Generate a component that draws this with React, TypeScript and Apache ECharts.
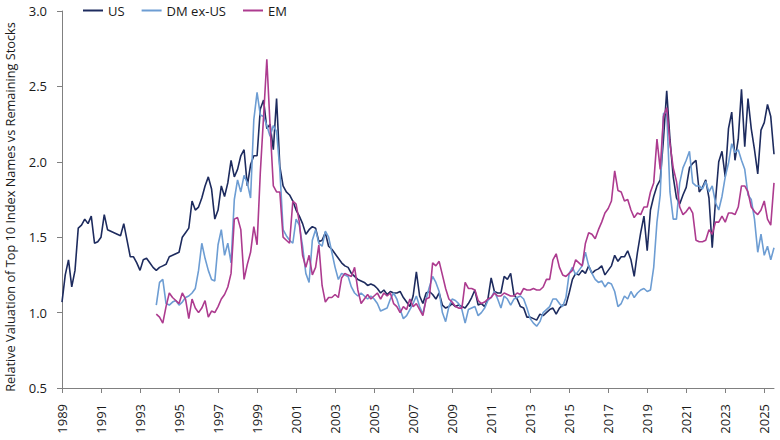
import { useEffect, useRef } from 'react';
import * as echarts from 'echarts';

// one point every two months, starting Jan 1989
const START_YEAR = 1989;
const STEPS_PER_YEAR = 6;
// DM ex-US and EM start in Nov 1993
const INTL_START = 29;

const usValues = [
  1.07, 1.25, 1.35, 1.17, 1.28, 1.56, // 1989
  1.58, 1.62, 1.59, 1.64, 1.46, 1.47, // 1990
  1.50, 1.65, 1.55, 1.54, 1.53, 1.52, // 1991
  1.51, 1.59, 1.48, 1.37, 1.37, 1.33, // 1992
  1.28, 1.35, 1.36, 1.33, 1.30, 1.28, // 1993
  1.30, 1.31, 1.32, 1.37, 1.38, 1.39, // 1994
  1.40, 1.50, 1.53, 1.56, 1.74, 1.68, // 1995
  1.70, 1.76, 1.84, 1.90, 1.82, 1.62, // 1996
  1.68, 1.84, 1.77, 1.86, 2.01, 1.90, // 1997
  1.95, 2.04, 2.08, 1.84, 1.98, 2.04, // 1998
  2.04, 2.35, 2.41, 2.22, 2.25, 2.08, // 1999
  2.42, 1.97, 1.84, 1.80, 1.78, 1.74, // 2000
  1.68, 1.64, 1.59, 1.52, 1.55, 1.57, // 2001
  1.56, 1.47, 1.48, 1.53, 1.44, 1.42, // 2002
  1.39, 1.36, 1.33, 1.31, 1.30, 1.26, // 2003
  1.24, 1.22, 1.21, 1.20, 1.18, 1.19, // 2004
  1.18, 1.16, 1.13, 1.15, 1.12, 1.14, // 2005
  1.13, 1.13, 1.14, 1.10, 1.07, 1.04, // 2006
  1.11, 1.27, 1.11, 1.06, 1.13, 1.14, // 2007
  1.12, 1.09, 1.13, 1.05, 1.03, 1.04, // 2008
  1.06, 1.04, 1.05, 1.04, 1.03, 1.06, // 2009
  1.10, 1.15, 1.05, 1.06, 1.04, 1.09, // 2010
  1.23, 1.14, 1.13, 1.13, 1.24, 1.22, // 2011
  1.26, 1.12, 1.09, 1.04, 1.03, 0.97, // 2012
  0.97, 0.96, 0.95, 0.99, 0.98, 1.00, // 2013
  1.02, 1.03, 0.99, 1.03, 1.05, 1.05, // 2014
  1.13, 1.22, 1.26, 1.25, 1.28, 1.26, // 2015
  1.31, 1.26, 1.28, 1.29, 1.31, 1.25, // 2016
  1.28, 1.31, 1.38, 1.34, 1.37, 1.37, // 2017
  1.41, 1.35, 1.24, 1.40, 1.53, 1.64, // 2018
  1.41, 1.68, 1.77, 1.84, 1.88, 2.15, // 2019
  2.47, 2.15, 1.90, 1.76, 1.72, 1.78, // 2020
  1.83, 1.96, 1.99, 2.01, 1.80, 1.83, // 2021
  1.88, 1.76, 1.43, 1.74, 2.00, 2.07, // 2022
  1.90, 2.22, 2.33, 2.01, 2.15, 2.48, // 2023
  2.10, 2.42, 2.22, 2.08, 1.92, 2.21, // 2024
  2.26, 2.38, 2.30, 2.05, // 2025
];

const dmValues = [
  1.05, // 1993
  1.20, 1.22, 1.06, 1.05, 1.07, 1.08, // 1994
  1.05, 1.07, 1.10, 1.11, 1.13, 1.16, // 1995
  1.28, 1.46, 1.36, 1.28, 1.22, 1.21, // 1996
  1.45, 1.55, 1.38, 1.46, 1.33, 1.75, // 1997
  1.88, 1.80, 1.91, 1.86, 1.76, 2.28, // 1998
  2.46, 2.31, 2.30, 2.24, 2.17, 2.24, // 1999
  2.20, 1.95, 1.55, 1.51, 1.48, 1.46, // 2000
  1.62, 1.58, 1.44, 1.26, 1.20, 1.48, // 2001
  1.55, 1.46, 1.44, 1.54, 1.50, 1.40, // 2002
  1.30, 1.22, 1.26, 1.25, 1.24, 1.17, // 2003
  1.13, 1.11, 1.13, 1.11, 1.09, 1.11, // 2004
  1.09, 1.06, 1.01, 1.02, 1.03, 1.09, // 2005
  1.13, 1.09, 1.02, 0.96, 0.98, 1.02, // 2006
  1.06, 1.11, 1.04, 0.99, 1.09, 1.17, // 2007
  1.24, 1.20, 1.14, 1.00, 0.94, 1.04, // 2008
  1.09, 1.08, 1.06, 1.02, 0.93, 1.02, // 2009
  1.03, 1.04, 0.98, 1.00, 1.03, 1.08, // 2010
  1.10, 1.14, 1.09, 1.03, 1.11, 1.09, // 2011
  1.05, 1.09, 1.10, 1.11, 1.09, 1.03, // 2012
  0.96, 0.93, 0.91, 0.94, 1.00, 1.02, // 2013
  1.04, 1.09, 1.09, 1.06, 1.04, 1.10, // 2014
  1.26, 1.30, 1.25, 1.28, 1.31, 1.40, // 2015
  1.31, 1.26, 1.22, 1.20, 1.21, 1.17, // 2016
  1.20, 1.19, 1.14, 1.04, 1.06, 1.11, // 2017
  1.09, 1.14, 1.10, 1.13, 1.15, 1.16, // 2018
  1.14, 1.15, 1.30, 1.60, 1.78, 2.32, // 2019
  2.33, 1.80, 1.62, 1.62, 1.86, 1.96, // 2020
  2.01, 2.07, 1.86, 1.84, 1.84, 1.82, // 2021
  1.87, 1.80, 1.84, 1.73, 1.68, 1.77, // 2022
  1.90, 1.99, 2.12, 2.06, 2.08, 2.01, // 2023
  1.95, 1.78, 1.75, 1.62, 1.40, 1.52, // 2024
  1.38, 1.44, 1.35, 1.43, // 2025
];

const emValues = [
  0.99, // 1993
  0.97, 0.93, 1.04, 1.13, 1.10, 1.08, // 1994
  1.06, 1.13, 1.09, 0.96, 1.09, 1.03, // 1995
  1.00, 1.03, 1.08, 0.97, 1.01, 1.00, // 1996
  1.04, 1.09, 1.12, 1.17, 1.26, 1.62, // 1997
  1.63, 1.55, 1.22, 1.32, 1.40, 1.57, // 1998
  1.45, 1.93, 2.30, 2.68, 2.24, 1.84, // 1999
  1.80, 1.80, 1.50, 1.48, 1.46, 1.74, // 2000
  1.72, 1.60, 1.38, 1.30, 1.38, 1.25, // 2001
  1.30, 1.45, 1.18, 1.07, 1.10, 1.10, // 2002
  1.12, 1.10, 1.23, 1.26, 1.25, 1.24, // 2003
  1.30, 1.15, 1.06, 1.09, 1.12, 1.09, // 2004
  1.11, 1.13, 1.09, 1.13, 1.11, 1.13, // 2005
  1.06, 1.04, 1.00, 1.04, 1.02, 1.09, // 2006
  1.04, 1.06, 1.02, 0.98, 1.09, 1.10, // 2007
  1.33, 1.31, 1.34, 1.25, 1.16, 1.09, // 2008
  1.07, 1.04, 1.03, 1.03, 1.20, 1.16, // 2009
  1.16, 1.15, 1.08, 1.06, 1.07, 1.09, // 2010
  1.10, 1.13, 1.11, 1.11, 1.13, 1.12, // 2011
  1.11, 1.11, 1.13, 1.12, 1.16, 1.15, // 2012
  1.15, 1.16, 1.15, 1.15, 1.17, 1.22, // 2013
  1.22, 1.35, 1.39, 1.30, 1.25, 1.24, // 2014
  1.26, 1.28, 1.35, 1.33, 1.31, 1.46, // 2015
  1.53, 1.52, 1.49, 1.55, 1.60, 1.66, // 2016
  1.69, 1.74, 1.94, 1.81, 1.80, 1.74, // 2017
  1.75, 1.68, 1.63, 1.66, 1.65, 1.70, // 2018
  1.70, 1.80, 1.86, 2.15, 1.95, 2.30, // 2019
  2.36, 2.12, 1.96, 1.87, 1.70, 1.65, // 2020
  1.67, 1.70, 1.66, 1.48, 1.47, 1.47, // 2021
  1.48, 1.55, 1.52, 1.60, 1.60, 1.64, // 2022
  1.60, 1.66, 1.66, 1.65, 1.70, 1.84, // 2023
  1.84, 1.80, 1.70, 1.67, 1.65, 1.68, // 2024
  1.74, 1.62, 1.58, 1.86, // 2025
];

const seriesNames = ['US', 'DM ex-US', 'EM'];
const seriesColors = ['#1d2b5e', '#6d9dd3', '#ad3b8f'];
const yAxisTitle = 'Relative Valuation of Top 10 Index Names vs Remaining Stocks';

const periods = usValues.map((_, i) => {
  const year = START_YEAR + Math.floor(i / STEPS_PER_YEAR);
  const month = (i % STEPS_PER_YEAR) * 2 + 1;
  return `${year}-${String(month).padStart(2, '0')}`;
});

const padIntl = (vals: number[]) => [
  ...Array(INTL_START).fill(null),
  ...vals,
];

const FONT = "'Open Sans', 'Noto Sans', sans-serif";
const TEXT = '#1a1a1a';
const AXIS = '#808080';

export default function App() {
  const chartRef = useRef<HTMLDivElement>(null);

  useEffect(() => {
    if (!chartRef.current) return;
    document.body.style.margin = '0';
    const chart = echarts.init(chartRef.current, null, { renderer: 'svg' });

    const labelEvery2Years = (index: number) => index % (STEPS_PER_YEAR * 2) === 0;
    const data = [usValues, padIntl(dmValues), padIntl(emValues)];

    chart.setOption({
      animation: false,
      textStyle: { fontFamily: FONT },
      legend: {
        left: 78,
        top: 0,
        padding: [4, 5, 5, 5],
        icon: 'rect',
        itemWidth: 20,
        itemHeight: 2,
        itemGap: 17,
        textStyle: { fontSize: 13, color: TEXT, fontFamily: FONT },
        data: seriesNames,
      },
      // y-axis title placed by hand (it sits a little below the plot centre)
      graphic: [
        {
          type: 'text',
          x: 10,
          y: 207,
          rotation: Math.PI / 2,
          style: {
            text: yAxisTitle,
            fontSize: 12.75,
            fontFamily: FONT,
            fill: TEXT,
            align: 'center',
            verticalAlign: 'middle',
          },
        },
      ],
      grid: { left: 62, right: 6, top: 11, bottom: 52, containLabel: false },
      xAxis: {
        type: 'category',
        data: periods,
        boundaryGap: false,
        axisLine: { lineStyle: { color: AXIS, width: 1 } },
        axisTick: { interval: labelEvery2Years, length: 5, lineStyle: { color: AXIS } },
        axisLabel: {
          interval: labelEvery2Years,
          rotate: 90,
          margin: 16,
          fontSize: 13,
          color: TEXT,
          fontFamily: FONT,
          formatter: (v: string) => v.slice(0, 4),
        },
        splitLine: { show: false },
      },
      yAxis: {
        type: 'value',
        min: 0.5,
        max: 3,
        interval: 0.5,
        axisLine: { show: true, lineStyle: { color: AXIS, width: 1 } },
        axisTick: { show: true, length: 5, lineStyle: { color: AXIS } },
        axisLabel: {
          margin: 15,
          fontSize: 13,
          color: TEXT,
          fontFamily: FONT,
          formatter: (v: number) => v.toFixed(1),
        },
        splitLine: { show: false },
      },
      series: seriesNames.map((name, i) => ({
        name,
        type: 'line',
        data: data[i],
        symbol: 'none',
        showSymbol: false,
        color: seriesColors[i],
        lineStyle: { color: seriesColors[i], width: 1.6 },
      })),
    });

    return () => {
      chart.dispose();
    };
  }, []);

  return (
    <div
      ref={chartRef}
      style={{ position: 'absolute', left: 0, top: 0, width: 780, height: 440 }}
    />
  );
}
